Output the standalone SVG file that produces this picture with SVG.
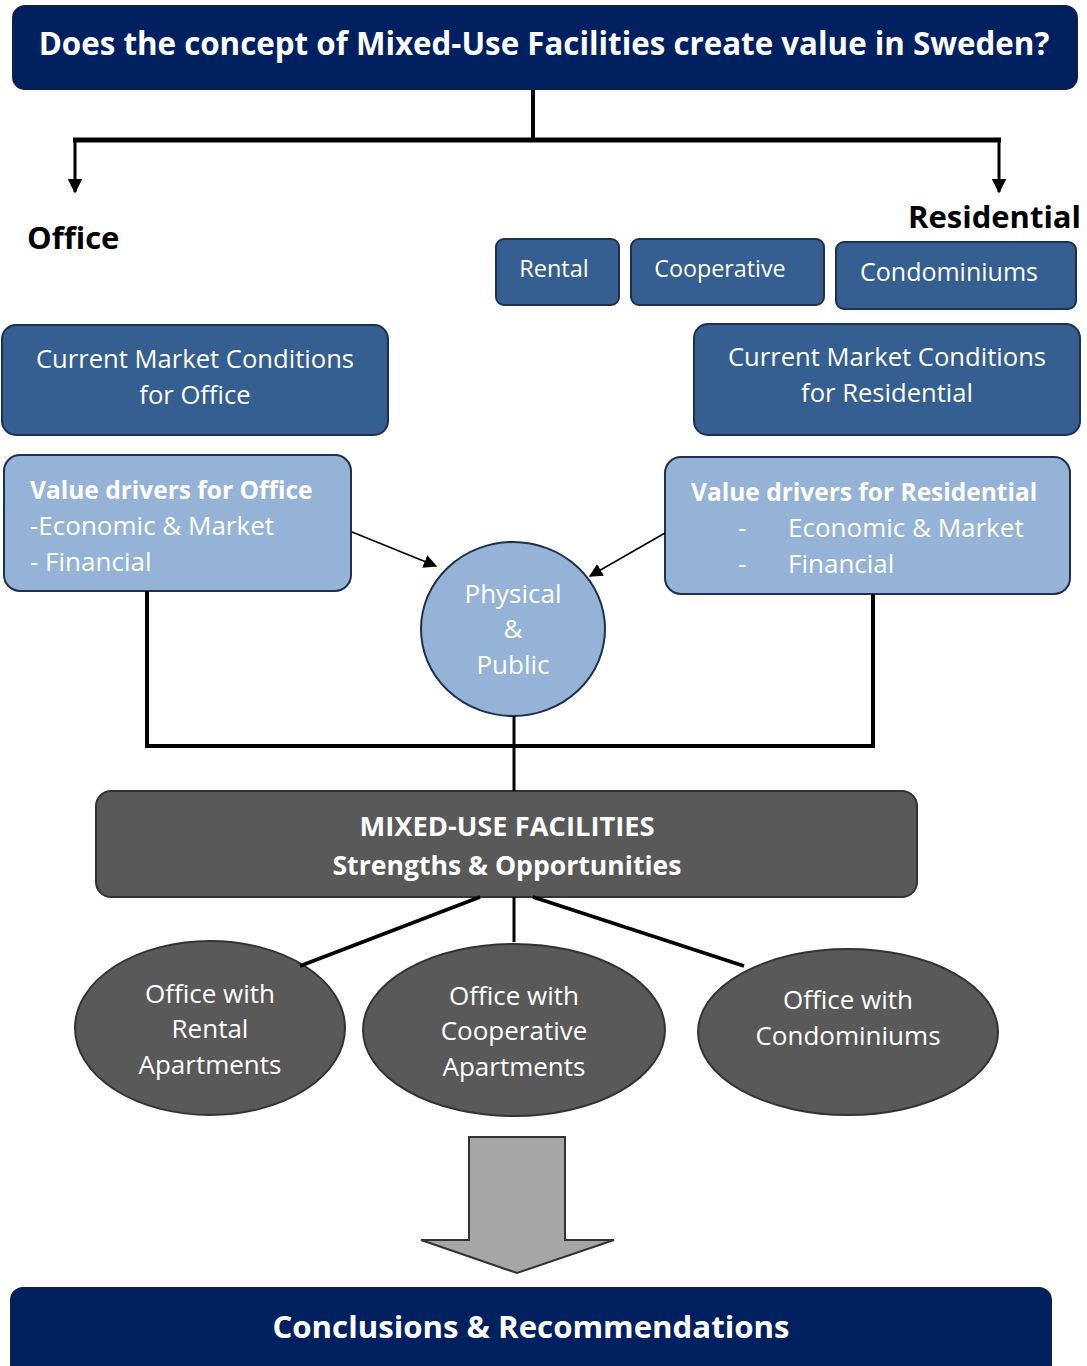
<svg xmlns="http://www.w3.org/2000/svg" width="1087" height="1366" viewBox="0 0 1087 1366">
<style>
text{font-family:"Open Sans","DejaVu Sans",sans-serif;fill:#fff;}
.b{font-weight:bold;}
.c{text-anchor:middle;}
.navy{fill:#002060;stroke:#0F1F4A;stroke-width:2;}
.mid{fill:#355E91;stroke:#1F2F50;stroke-width:2;}
.lite{fill:#95B3D7;stroke:#1F2F50;stroke-width:2;}
.grey{fill:#595959;stroke:#333;stroke-width:2;}
.ln{stroke:#000;fill:none;}
</style>
<defs>
<marker id="ah" viewBox="0 0 10 10" refX="9" refY="5" markerWidth="5" markerHeight="5" orient="auto" markerUnits="strokeWidth"><path d="M0,0 L10,5 L0,10 z" fill="#000"/></marker>
<marker id="ah2" viewBox="0 0 10 10" refX="9" refY="5" markerWidth="9" markerHeight="9" orient="auto" markerUnits="strokeWidth"><path d="M0,0 L10,5 L0,10 z" fill="#000"/></marker>
</defs>
<g id="title"><rect class="navy" x="13" y="6" width="1064" height="83" rx="12"/><text class="b c" x="544" y="55" font-size="31.3">Does the concept of Mixed-Use Facilities create value in Sweden?</text></g>
<g id="office-label"><text class="b" x="27" y="249" font-size="31" style="fill:#000">Office</text></g>
<g id="residential-label"><text class="b" x="908" y="228" font-size="31" style="fill:#000">Residential</text></g>
<g id="rental"><rect class="mid" x="496" y="239" width="123" height="66" rx="8"/><text class="c" x="554" y="277" font-size="23.5">Rental</text></g>
<g id="cooperative"><rect class="mid" x="631" y="239" width="193" height="66" rx="8"/><text class="c" x="720" y="277" font-size="23.3">Cooperative</text></g>
<g id="condominiums"><rect class="mid" x="836" y="242" width="240" height="67" rx="8"/><text class="c" x="949" y="281" font-size="25">Condominiums</text></g>
<g id="cmc-office"><rect class="mid" x="2" y="325" width="386" height="110" rx="14"/><text class="c" x="195" y="368" font-size="25.6">Current Market Conditions</text><text class="c" x="195" y="404" font-size="25.6">for Office</text></g>
<g id="cmc-res"><rect class="mid" x="694" y="324" width="386" height="111" rx="14"/><text class="c" x="887" y="366" font-size="25.6">Current Market Conditions</text><text class="c" x="887" y="402" font-size="25.6">for Residential</text></g>
<g id="vd-office"><rect class="lite" x="4" y="455" width="347" height="136" rx="16"/><text class="b" x="30" y="499" font-size="24.5">Value drivers for Office</text><text x="30" y="535" font-size="26">-Economic &amp; Market</text><text x="30" y="571" font-size="26">- Financial</text></g>
<g id="vd-res"><rect class="lite" x="665" y="457" width="405" height="137" rx="16"/><text class="b" x="691" y="501" font-size="24.5">Value drivers for Residential</text><text x="738" y="537" font-size="26">-</text><text x="788" y="537" font-size="26">Economic &amp; Market</text><text x="738" y="573" font-size="26">-</text><text x="788" y="573" font-size="26">Financial</text></g>
<g id="physical"><ellipse class="lite" cx="513" cy="629" rx="92" ry="87"/><text class="c" x="513" y="603" font-size="26">Physical</text><text class="c" x="513" y="638" font-size="26">&amp;</text><text class="c" x="513" y="674" font-size="26">Public</text></g>
<g id="mixed"><rect class="grey" x="96" y="791" width="821" height="106" rx="15"/><text class="b c" x="507" y="836" font-size="27.3">MIXED-USE FACILITIES</text><text class="b c" x="507" y="875" font-size="26.6">Strengths &amp; Opportunities</text></g>
<g id="opt-rental"><ellipse class="grey" cx="210" cy="1028" rx="135" ry="87"/><text class="c" x="210" y="1003" font-size="26">Office with</text><text class="c" x="210" y="1038" font-size="26">Rental</text><text class="c" x="210" y="1074" font-size="26">Apartments</text></g>
<g id="opt-coop"><ellipse class="grey" cx="514" cy="1030" rx="151" ry="86"/><text class="c" x="514" y="1005" font-size="26">Office with</text><text class="c" x="514" y="1040" font-size="26">Cooperative</text><text class="c" x="514" y="1076" font-size="26">Apartments</text></g>
<g id="opt-condo"><ellipse class="grey" cx="848" cy="1032" rx="150" ry="83"/><text class="c" x="848" y="1009" font-size="26">Office with</text><text class="c" x="848" y="1045" font-size="26">Condominiums</text></g>
<g id="block-arrow"><path d="M469,1137 H565 V1240 H614 L517,1273 L421,1240 H469 Z" fill="#A6A6A6" stroke="#333" stroke-width="2"/></g>
<g id="conclusions"><rect class="navy" x="11" y="1288" width="1040" height="100" rx="12"/><text class="b c" x="531" y="1338" font-size="31.2">Conclusions &amp; Recommendations</text></g>
<g id="connectors">
<path class="ln" d="M533,90 V138" stroke-width="4"/>
<path class="ln" d="M73,140 H1001" stroke-width="5"/>
<path class="ln" d="M75,140 V192" stroke-width="3" marker-end="url(#ah)"/>
<path class="ln" d="M999,140 V192" stroke-width="3" marker-end="url(#ah)"/>
<path class="ln" d="M352,532 L436,566" stroke-width="1.5" marker-end="url(#ah2)"/>
<path class="ln" d="M665,533 L590,576" stroke-width="1.5" marker-end="url(#ah2)"/>
<path class="ln" d="M147,591 V746 H873 V594" stroke-width="4"/>
<path class="ln" d="M514,716 V791" stroke-width="3"/>
<path class="ln" d="M480,897 L300,966" stroke-width="3.5"/>
<path class="ln" d="M514,897 V942" stroke-width="3"/>
<path class="ln" d="M533,897 L744,966" stroke-width="3.5"/>
</g>
</svg>
